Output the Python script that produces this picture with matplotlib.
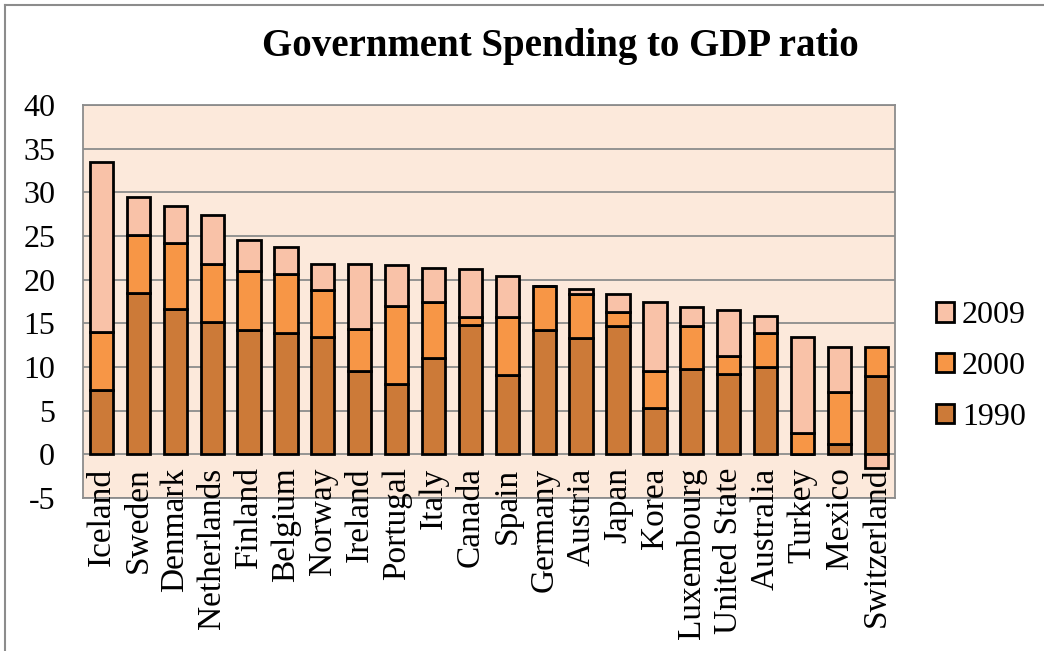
import matplotlib
matplotlib.use('Agg')
import matplotlib.pyplot as plt
import numpy as np
from matplotlib.lines import Line2D

# data (stacked increments)
countries = ['Iceland', 'Sweden', 'Denmark', 'Netherlands', 'Finland', 'Belgium',
             'Norway', 'Ireland', 'Portugal', 'Italy', 'Canada', 'Spain', 'Germany',
             'Austria', 'Japan', 'Korea', 'Luxembourg', 'United State', 'Australia',
             'Turkey', 'Mexico', 'Switzerland']
y1990 = [7.4, 18.5, 16.6, 15.2, 14.3, 13.85, 13.4, 9.5, 8.1, 11.0, 14.85, 9.05,
         14.2, 13.35, 14.75, 5.3, 9.8, 9.25, 10.0, 0.0, 1.2, 9.0]
y2000 = [6.6, 6.6, 7.6, 6.6, 6.7, 6.85, 5.4, 4.85, 8.9, 6.5, 0.9, 6.65,
         5.1, 5.0, 1.5, 4.2, 4.95, 2.05, 3.85, 2.4, 5.9, 3.25]
y2009 = [19.5, 4.4, 4.2, 5.6, 3.5, 3.0, 2.95, 7.5, 4.7, 3.8, 5.45, 4.7,
         0.0, 0.6, 2.15, 7.9, 2.15, 5.2, 2.05, 11.05, 5.2, -1.6]

c1990 = '#CC7A38'
c2000 = '#F79646'
c2009 = '#F9C2A8'
bg = '#FCE9DB'

plt.rcParams['font.family'] = 'Liberation Serif'
plt.rcParams['axes.unicode_minus'] = False

fig = plt.figure(figsize=(10.44, 6.51), dpi=100)
ax = fig.add_axes([0.0795, 0.235, 0.7775, 0.6035])
ax.set_facecolor(bg)

x = np.arange(len(countries))
w = 0.63
a = np.array(y1990)
b = np.array(y2000)
c = np.array(y2009)
ax.bar(x, a, w, color=c1990, edgecolor='black', linewidth=2, zorder=3)
ax.bar(x, b, w, bottom=a, color=c2000, edgecolor='black', linewidth=2, zorder=3)
# negative values stack below zero
bot = np.where(c >= 0, a + b, 0)
ax.bar(x, c, w, bottom=bot, color=c2009, edgecolor='black', linewidth=2, zorder=3)

ax.set_xlim(-0.5, len(countries) - 0.5)
ax.set_ylim(-5, 40)
ax.set_yticks(np.arange(-5, 41, 5))
ax.tick_params(axis='y', length=0, pad=20, labelsize=23)
ax.set_xticks([])
ax.yaxis.grid(True, color='#8C8C8C', linewidth=1.3, zorder=0)
for s in ax.spines.values():
    s.set_color('#8C8C8C')
    s.set_linewidth(1.3)

for i, name in enumerate(countries):
    ax.text(i, -1.5, name, rotation=90, ha='center', va='top', fontsize=24,
            clip_on=False)

fig.text(0.537, 0.929, 'Government Spending to GDP ratio', ha='center', va='center',
         fontsize=28, fontweight='bold')

handles = [plt.Rectangle((0, 0), 1, 1, facecolor=col, edgecolor='black', linewidth=2)
           for col in (c2009, c2000, c1990)]
fig.legend(handles, ['2009', '2000', '1990'], loc='center left',
           bbox_to_anchor=(0.897, 0.437), frameon=False, fontsize=23,
           borderaxespad=0, borderpad=0,
           handlelength=0.55, handleheight=0.55, handletextpad=0.25, labelspacing=0.68)

# chart area border
fig.add_artist(Line2D([0.005, 0.005], [0, 0.993], color='#8C8C8C', linewidth=1.5))
fig.add_artist(Line2D([0.005, 1.0], [0.993, 0.993], color='#8C8C8C', linewidth=1.5))

fig.savefig('out.png', dpi=100)
